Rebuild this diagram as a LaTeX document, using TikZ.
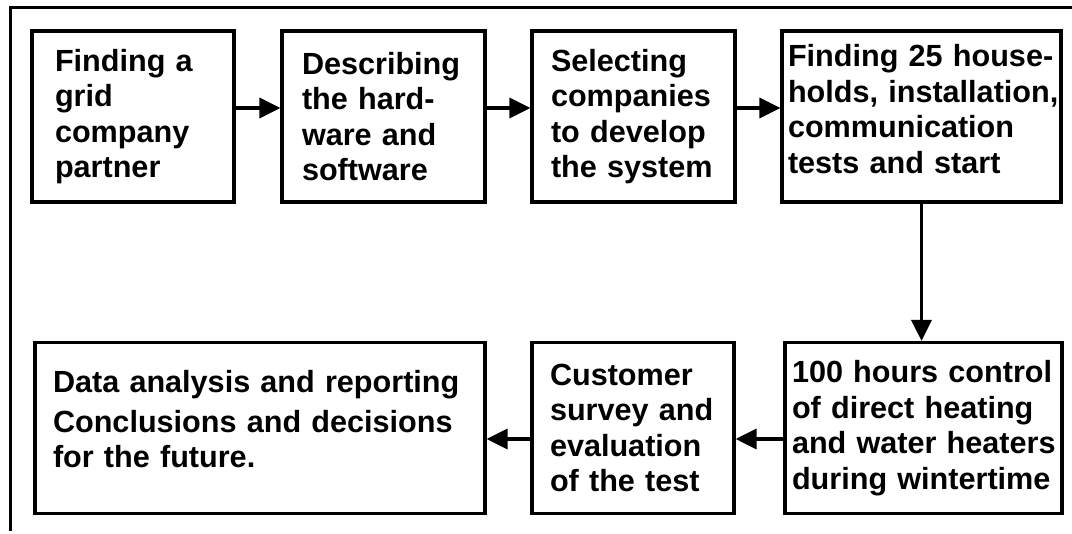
\documentclass[tikz,border=0pt]{standalone}
\usepackage{fontspec}
\setmainfont{Liberation Sans}
\usepackage{tikz}
\usetikzlibrary{arrows.meta,calc}
\tikzset{>={Triangle[length=21pt,width=20pt]}}
\tikzset{
	stage/.style={draw,line width=3.2pt,align=left,minimum height=171pt,inner ysep=2pt,
		font=\bfseries\fontsize{30.6}{35.5}\selectfont},
	flow/.style={->,line width=3.2pt}
}
\newcommand{\lowpad}[1]{\rule[-#1]{0pt}{1pt}}

\begin{document}
\begin{tikzpicture}[x=1pt,y=-1pt]
		\useasboundingbox (0,0) rectangle (1072,534);
		\draw[line width=3pt] (10,531) -- (10,8) -- (1072,8);
		
		\node[stage,text width=156pt,inner xsep=23pt] (find) at (133,116.5) {Finding a\\grid\\company\\partner};
		\node[stage,text width=163pt,inner xsep=20pt] (hw) at (383.5,116.5) {Describing\\the hard-\\ware and\\software};
		\node[stage,text width=165pt,inner xsep=19pt] (sel) at (633.5,116.5) {Selecting\\companies\\to develop\\the system};
		\node[stage,text width=267pt,inner xsep=6pt] (homes) at (921.5,116.5) {\mbox{Finding 25 house-}\\\mbox{holds, installation,}\\communication\\tests and start\lowpad{15pt}};
		
		\node[stage,text width=263pt,inner xsep=7pt] (ctrl) at (923.5,428) {100 hours control\\of direct heating\\\mbox{and water heaters}\\during wintertime};
		\node[stage,text width=166pt,inner xsep=18pt] (survey) at (633,428) {Customer\\survey and\\evaluation\\of the test};
		\node[stage,text width=414pt,inner xsep=18pt] (data) at (260,428) {Data analysis and reporting\\[4.5pt]Conclusions and decisions\\for the future.\lowpad{18pt}};
		
		\draw[flow] ([yshift=8.5pt]find.east) -- ([yshift=8.5pt]hw.west);
		\draw[flow] ([yshift=8.5pt]hw.east) -- ([yshift=8.5pt]sel.west);
		\draw[flow] ([yshift=8.5pt]sel.east) -- ([yshift=8.5pt]homes.west);
		\draw[flow] (homes.south) -- (homes.south |- ctrl.north);
		\draw[flow] ([yshift=-11pt]ctrl.west) -- ([yshift=-11pt]survey.east);
		\draw[flow] ([yshift=-11pt]survey.west) -- ([yshift=-11pt]data.east);
	\end{tikzpicture}
\end{document}
